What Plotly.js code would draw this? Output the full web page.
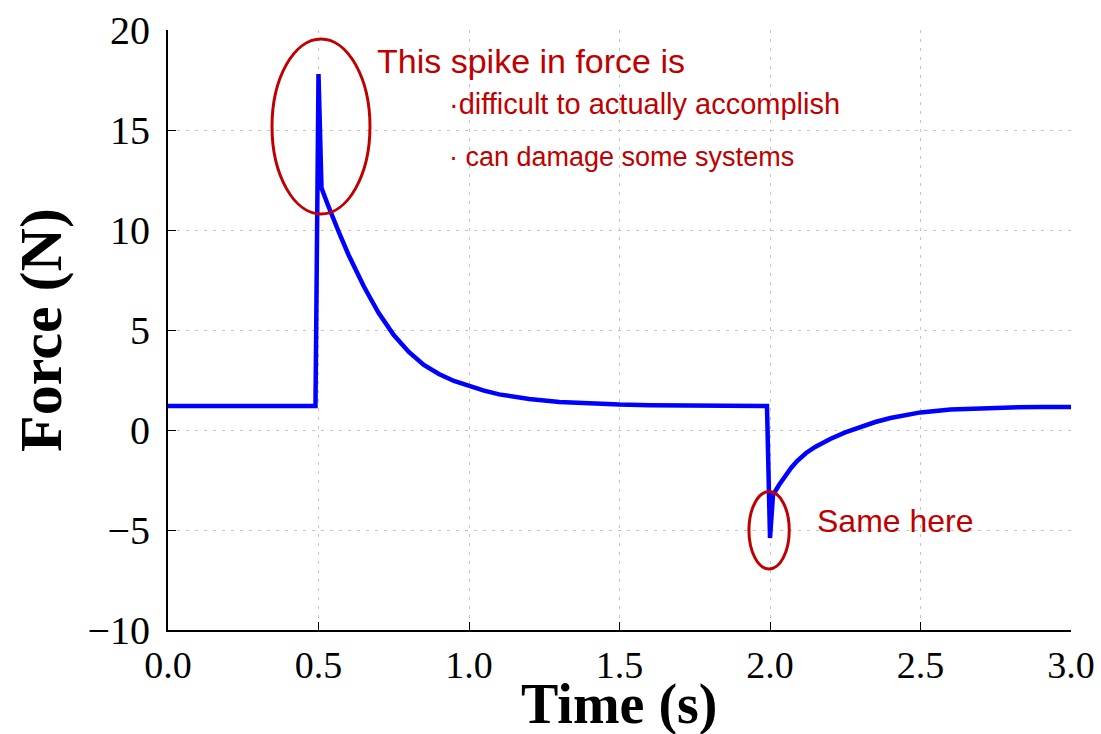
<!DOCTYPE html>
<html>
<head>
<meta charset="utf-8">
<script src="https://cdn.plot.ly/plotly-3.0.1.min.js"></script>
<style>html,body{margin:0;padding:0;background:#fff;}#chart{width:1101px;height:734px;}</style>
</head>
<body>
<div id="chart"></div>
<script>
// Time (s) and Force (N)
const timeS = [0.00, 0.49, 0.50, 0.51, 0.53, 0.55, 0.57, 0.60, 0.62, 0.65, 0.67, 0.70, 0.75, 0.80, 0.85, 0.90, 0.95, 1.00,
               1.05, 1.10, 1.15, 1.20, 1.30, 1.40, 1.50, 1.60, 1.70, 1.80, 1.90, 1.99,
               2.00, 2.01, 2.03, 2.05, 2.07, 2.09, 2.12, 2.15, 2.20, 2.25, 2.30, 2.35, 2.40, 2.45, 2.50,
               2.60, 2.70, 2.80, 2.90, 3.00];
const forceN = [1.20, 1.20, 17.80, 12.10, 11.30, 10.50, 9.80, 8.75, 8.10, 7.20, 6.65, 5.85, 4.75, 3.90, 3.25, 2.80, 2.45, 2.20,
                1.97, 1.78, 1.65, 1.55, 1.40, 1.32, 1.27, 1.24, 1.22, 1.21, 1.20, 1.20,
                -5.40, -3.25, -2.75, -2.30, -1.90, -1.55, -1.15, -0.85, -0.45, -0.12, 0.15, 0.40, 0.60, 0.76, 0.88,
                1.02, 1.09, 1.13, 1.15, 1.15];

const xTickVals = [0.0, 0.5, 1.0, 1.5, 2.0, 2.5, 3.0];
const yTickVals = [-10, -5, 0, 5, 10, 15, 20];

const xTitle = "Time (s)";
const yTitle = "Force (N)";

// handwritten notes
const noteTexts = ["This spike in force is", "·difficult to actually accomplish", "· can damage some systems", "Same here"];
const noteX = [0.688, 0.927, 0.927, 2.149];
const noteY = [18.45, 16.3, 13.65, -4.55];
const noteSize = [34, 29, 27, 32];

// ellipses around the spikes [x0, x1, y0, y1]
const ringA = [0.3455, 0.671, 10.8, 19.55];
const ringB = [1.930, 2.064, -6.95, -3.08];

const red = "#c00000";
const serif = "Liberation Serif, Times New Roman, serif";
const hand = "Liberation Sans Narrow, Liberation Sans, Arial, sans-serif";

const trace = {
  x: timeS, y: forceN, type: "scatter", mode: "lines",
  line: {color: "#0000ff", width: 4.5},
  hoverinfo: "skip"
};

const annotations = noteTexts.map((t, i) => ({
  text: t, x: noteX[i], y: noteY[i], xref: "x", yref: "y",
  xanchor: "left", yanchor: "middle", showarrow: false,
  font: {family: hand, size: noteSize[i], color: red}
}));

// x axis title placed as a paper annotation near the page bottom
annotations.push({
  text: "<b>" + xTitle + "</b>", xref: "paper", yref: "paper", x: 0.5, y: -0.178,
  xanchor: "center", yanchor: "bottom", showarrow: false, borderpad: 0,
  font: {family: serif, size: 56, color: "#000"}
});

const shapes = [ringA, ringB].map(r => ({
  type: "circle", xref: "x", yref: "y",
  x0: r[0], x1: r[1], y0: r[2], y1: r[3],
  line: {color: red, width: 3}
}));

const axisCommon = {
  showline: true, linecolor: "#000", linewidth: 2, mirror: false,
  ticks: "inside", ticklen: 8, tickwidth: 1, tickcolor: "#000",
  showgrid: true, gridcolor: "#c4c4c4", gridwidth: 1, griddash: "3px,6px",
  zeroline: false,
  tickfont: {family: serif, size: 40, color: "#000"}
};

const layout = {
  width: 1101, height: 734,
  margin: {l: 168, r: 30, t: 30, b: 104},
  paper_bgcolor: "#fff", plot_bgcolor: "#fff",
  showlegend: false,
  xaxis: Object.assign({}, axisCommon, {
    range: [0, 3], tickvals: xTickVals, tickformat: ".1f",
    tickfont: {family: serif, size: 38, color: "#000"}
  }),
  yaxis: Object.assign({}, axisCommon, {
    range: [-10, 20], tickvals: yTickVals, ticklabelstandoff: 8,
    title: {text: "<b>" + yTitle + "</b>", font: {family: serif, size: 60, color: "#000"}, standoff: 6}
  }),
  annotations: annotations,
  shapes: shapes
};

Plotly.newPlot("chart", [trace], layout, {staticPlot: true, displayModeBar: false});
</script>
</body>
</html>
